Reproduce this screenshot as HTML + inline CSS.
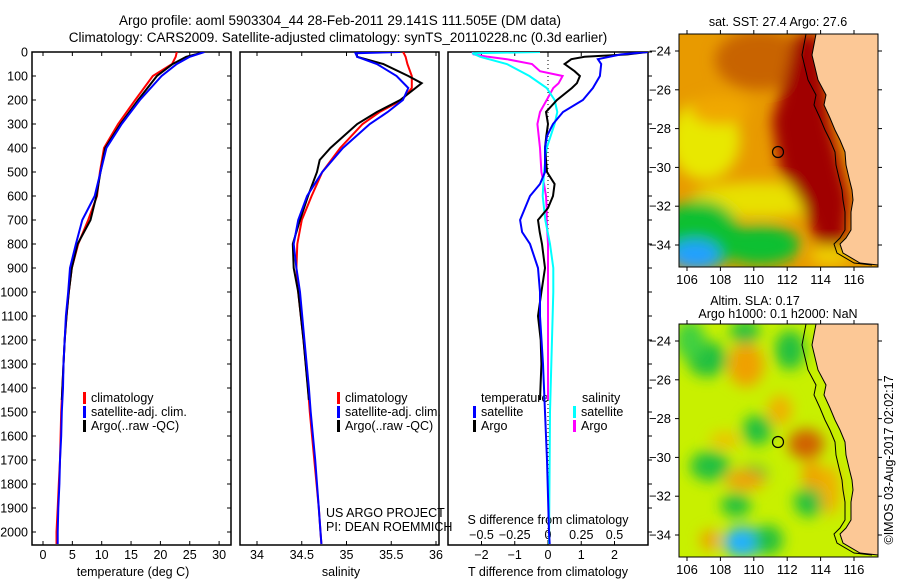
<!DOCTYPE html>
<html><head><meta charset="utf-8"><style>
body{margin:0;background:#fff;}
svg{display:block;font-family:"Liberation Sans",sans-serif;}
text{font-size:12.5px;fill:#000;}
</style></head><body>
<svg id="chart" width="900" height="580" viewBox="0 0 900 580">
<defs>
<filter id="bl" x="-20%" y="-20%" width="140%" height="140%"><feGaussianBlur stdDeviation="7"/></filter>
<clipPath id="c1"><rect x="679" y="34" width="199" height="233"/></clipPath>
<clipPath id="c2"><rect x="679" y="324" width="199" height="233"/></clipPath>
<clipPath id="p1"><rect x="32" y="52" width="199" height="493"/></clipPath>
<clipPath id="p2"><rect x="240" y="52" width="199" height="493"/></clipPath>
<clipPath id="p3"><rect x="448" y="52" width="200" height="493"/></clipPath>
</defs>
<text x="340" y="25" text-anchor="middle" style="font-size:13.5px">Argo profile: aoml 5903304_44 28-Feb-2011 29.141S 111.505E (DM data)</text>
<text x="338" y="42" text-anchor="middle" style="font-size:13.5px">Climatology: CARS2009. Satellite-adjusted climatology: synTS_20110228.nc (0.3d earlier)</text>
<g id="axes"></g>
<g id="series"></g>
<g id="maps"></g>
</svg>
<script>
// ---- data ----
const tDepth = [0,20,50,100,200,300,400,500,600,700,800,900,1000,1100,1200,1300,1400,1500,1600,1700,1800,1900,2000,2050];
const tClim  = [22.8,22.6,22.0,18.7,15.7,12.8,10.4,9.7,9.2,7.7,6.0,4.9,4.4,4.0,3.7,3.5,3.3,3.1,3.0,2.9,2.7,2.5,2.3,2.3];
const tSat   = [27.5,25.0,22.8,20.2,16.5,13.4,10.8,9.8,8.8,6.7,5.6,4.6,4.3,3.9,3.7,3.5,3.4,3.2,3.1,2.9,2.8,2.6,2.5,2.5];
const aDepth = [0,10,20,50,100,200,300,400,500,600,700,800,900,1000,1100,1200,1300,1450];
const tArgo  = [27.3,26.0,24.4,22.1,19.4,16.2,13.2,10.6,9.8,9.1,8.1,5.9,4.9,4.4,4.0,3.7,3.5,3.2];
const sDepth = [0,5,20,50,100,150,200,250,300,400,500,600,700,800,900,1000,1200,1400,1500,1700,1900,2000,2050];
const sClim  = [35.63,35.64,35.66,35.68,35.73,35.73,35.62,35.37,35.18,34.93,34.73,34.61,34.50,34.45,34.44,34.46,34.52,34.57,34.59,34.64,34.69,34.71,34.72];
const sSat   = [35.60,35.10,35.12,35.34,35.56,35.69,35.63,35.46,35.26,34.96,34.73,34.56,34.46,34.41,34.44,34.48,34.53,34.58,34.60,34.65,34.69,34.71,34.72];
const sArgoD = [0,20,50,100,130,200,250,300,400,450,500,600,700,800,900,1000,1200,1450];
const sArgo  = [35.11,35.12,35.41,35.69,35.84,35.60,35.34,35.12,34.82,34.70,34.67,34.57,34.48,34.40,34.41,34.46,34.52,34.58];
const dDepth = [0,10,20,30,50,80,100,130,150,200,250,300,350,400,500,550,600,650,700,750,800,900,1000,1100,1200,1300,1450];
const dTArgo = [3.0,2.4,1.1,0.7,0.5,0.8,0.96,0.87,0.72,0.27,-0.06,0,-0.05,-0.09,-0.03,0.2,0.15,0,-0.3,-0.25,-0.18,-0.09,-0.2,-0.3,-0.22,-0.2,-0.24];
const dTSatD = [0,10,30,50,100,150,200,250,300,350,400,500,550,600,700,750,800,900,1000,1100,1300,1500,1700,2000,2050];
const dTSat  = [3.0,2.2,1.5,1.6,1.56,1.35,1.05,0.45,0.15,-0.03,-0.09,-0.09,-0.24,-0.54,-0.84,-0.78,-0.54,-0.3,-0.24,-0.24,-0.15,-0.09,-0.03,0.03,0.05];
const dSArgo = [-0.57,-0.56,-0.45,-0.31,-0.12,-0.06,0.11,0.08,0.04,-0.01,-0.06,-0.08,-0.07,-0.06,-0.05,-0.03,-0.015,-0.01,-0.01,-0.005,0,0,0,0,0,0,0];
const dSSatD = [0,5,20,50,100,150,200,250,300,400,500,600,700,800,900,1000,1500,2000,2050];
const dSSat  = [-0.06,-0.57,-0.51,-0.31,-0.14,-0.01,0.05,0.07,0.05,-0.01,-0.03,-0.04,-0.02,0.015,0.04,0.04,0.015,0.008,0.008];
const depthTicks = [0,100,200,300,400,500,600,700,800,900,1000,1100,1200,1300,1400,1500,1600,1700,1800,1900,2000];
const tTicks = [0,5,10,15,20,25,30];
const sTicks = [34,34.5,35,35.5,36];
const dTTicks = [-2,-1,0,1,2];
const dSTicks = [-0.5,-0.25,0,0.25,0.5];
const lonTicks = [106,108,110,112,114,116];
const latTicks = [-24,-26,-28,-30,-32,-34];

// ---- scales ----
const yD = d => 52 + d*0.24;
const xT = t => 43 + t*5.87;
const xS = s => 257 + (s-34)*89.5;
const xDT = v => 548 + v*33.25;
const xDS = v => 548 + v*133;
const lonX = l => 687 + (l-106)*16.7;
const latY = (l,off) => off + 51 + (-24-l)*19.4;

const NS="http://www.w3.org/2000/svg";
function mk(tag, attrs, parent){const e=document.createElementNS(NS,tag);for(const k in attrs)e.setAttribute(k,attrs[k]);parent.appendChild(e);return e;}
const axes=document.getElementById('axes'), series=document.getElementById('series'), maps=document.getElementById('maps');
function txt(x,y,s,anchor,parent,size){const t=mk('text',{x:x,y:y,'text-anchor':anchor||'start'},parent);if(size)t.style.fontSize=size+'px';t.textContent=s;return t;}

// panels
const panels=[[32,'panel-temperature'],[240,'panel-salinity'],[448,'panel-difference']];
panels.forEach(([x,n],i)=>{const r=mk('rect',{x:x,y:52,width:i==2?200:199,height:493,fill:'none',stroke:'#000','stroke-width':1.5},axes);

});
depthTicks.forEach(d=>{
  const l=mk('line',{x1:32,x2:36,y1:yD(d),y2:yD(d),stroke:'#000'},axes);
  mk('line',{x1:227,x2:231,y1:yD(d),y2:yD(d),stroke:'#000'},axes);
  mk('line',{x1:648,x2:652,y1:yD(d),y2:yD(d),stroke:'#000'},axes);
  const t=txt(28,yD(d)+4.5,String(d),'end',axes);
  
  
});
tTicks.forEach(v=>{mk('line',{x1:xT(v),x2:xT(v),y1:52,y2:56,stroke:'#000'},axes);mk('line',{x1:xT(v),x2:xT(v),y1:541,y2:545,stroke:'#000'},axes);
  const t=txt(xT(v),559,String(v),'middle',axes);
  
  });
sTicks.forEach(v=>{mk('line',{x1:xS(v),x2:xS(v),y1:52,y2:56,stroke:'#000'},axes);mk('line',{x1:xS(v),x2:xS(v),y1:541,y2:545,stroke:'#000'},axes);
  const t=txt(xS(v),559,String(v),'middle',axes);
  
  });
dTTicks.forEach(v=>{mk('line',{x1:xDT(v),x2:xDT(v),y1:52,y2:56,stroke:'#000'},axes);mk('line',{x1:xDT(v),x2:xDT(v),y1:541,y2:545,stroke:'#000'},axes);
  const t=txt(xDT(v),559,String(v).replace('-','\u2212'),'middle',axes);
  
  });
dSTicks.forEach(v=>{const t=txt(xDS(v),539,String(v).replace('-','\u2212'),'middle',axes);
  
  });
[[133,'temperature (deg C)','x-axis-title-temperature'],[341,'salinity','x-axis-title-salinity'],[548,'T difference from climatology','x-axis-title-t-diff']].forEach(([x,s,n])=>{
  const t=txt(x,576,s,'middle',axes);
  
  });
{const t=txt(548,524,'S difference from climatology','middle',axes);

}
mk('line',{x1:548,x2:548,y1:52,y2:545,stroke:'#000','stroke-dasharray':'1,3'},axes);
{const a=txt(326,517,'US ARGO PROJECT','start',axes);
const b=txt(326,531,'PI: DEAN ROEMMICH','start',axes);}

function line(depths, vals, xf, color, clip, name){
  const p=depths.map((d,i)=>xf(vals[i]).toFixed(1)+','+yD(d).toFixed(1)).join(' ');
  const e=mk('polyline',{points:p,fill:'none',stroke:color,'stroke-width':2,'clip-path':'url(#'+clip+')'},series);
  
  
}
line(tDepth,tClim,xT,'#f00','p1','temp-climatology-line');
line(aDepth,tArgo,xT,'#000','p1','temp-argo-line');
line(tDepth,tSat,xT,'#00f','p1','temp-satellite-line');
line(sDepth,sClim,xS,'#f00','p2','salinity-climatology-line');
line(sArgoD,sArgo,xS,'#000','p2','salinity-argo-line');
line(sDepth,sSat,xS,'#00f','p2','salinity-satellite-line');
line(dDepth,dSArgo,xDS,'#f0f','p3','s-diff-argo-line');
line(dSSatD,dSSat,xDS,'#0ff','p3','s-diff-satellite-line');
line(dDepth,dTArgo,xDT,'#000','p3','t-diff-argo-line');
line(dTSatD,dTSat,xDT,'#00f','p3','t-diff-satellite-line');

function legend(x,y,color,label,name){
  const g=mk('g',{},axes);
  
  
  mk('rect',{x:x,y:y-10,width:3,height:12,fill:color},g);
  txt(x+8,y,label,'start',g);
}
legend(83,402,'#f00','climatology','legend-climatology');
legend(83,416,'#00f','satellite-adj. clim.','legend-satellite-adj');
legend(83,430,'#000','Argo(..raw -QC)','legend-argo');
legend(337,402,'#f00','climatology','legend-s-climatology');
legend(337,416,'#00f','satellite-adj. clim.','legend-s-satellite-adj');
legend(337,430,'#000','Argo(..raw -QC)','legend-s-argo');
{const t=txt(481,402,'temperature','start',axes);
const s=txt(582,402,'salinity','start',axes);}
legend(473,416,'#00f','satellite','legend-t-satellite');
legend(473,430,'#000','Argo','legend-t-argo');
legend(573,416,'#0ff','satellite','legend-s-satellite');
legend(573,430,'#f0f','Argo','legend-s-argo-diff');

// ---- maps ----
const coast=[[816,34],[812,55],[818,80],[826,95],[824,105],[830,118],[835,130],[840,140],[845,152],[846,165],[849,178],[852,190],[853,200],[851,212],[851,230],[846,238],[840,244],[843,253],[860,263],[878,265]];
function drawMap(off, clip, blobs, base, name){
  const g=mk('g',{},maps);
  
  
  const inner=mk('g',{'clip-path':'url(#'+clip+')'},g);
  mk('rect',{x:679,y:34+off,width:199,height:233,fill:base},inner);
  const bg=mk('g',{filter:'url(#bl)'},inner);
  blobs.forEach(b=>{ if(b[0]==='p') mk('polygon',{points:b[1].map(p=>p[0]+','+(p[1]+off)).join(' '),fill:b[2]},bg);
    else mk('ellipse',{cx:b[0],cy:b[1]+off,rx:b[2],ry:b[3],fill:b[4]},bg);});
  const pts=coast.map(p=>p[0]+','+(p[1]+off)).join(' ');
  mk('polygon',{points:pts+' 878,'+(34+off),fill:'#fcc896'},inner);
  mk('polyline',{points:pts,fill:'none',stroke:'#000','stroke-width':1},inner);
  mk('polyline',{points:coast.map(p=>(p[0]-10-(p[1]>200?-4:0))+','+(p[1]+off)).join(' '),fill:'none',stroke:'#000','stroke-width':1},inner);
  mk('rect',{x:679,y:34+off,width:199,height:233,fill:'none',stroke:'#000'},g);
  const c=mk('circle',{cx:778,cy:152+off,r:5.5,fill:'none',stroke:'#000','stroke-width':1.2},g);
  
  
  lonTicks.forEach(l=>{mk('line',{x1:lonX(l),x2:lonX(l),y1:34+off,y2:30+off,stroke:'#000'},g);mk('line',{x1:lonX(l),x2:lonX(l),y1:267+off,y2:271+off,stroke:'#000'},g);
    const t=txt(lonX(l),284+off,String(l),'middle',g,13);
    
    });
  latTicks.forEach(l=>{mk('line',{x1:679,x2:675,y1:latY(l,off),y2:latY(l,off),stroke:'#000'},g);mk('line',{x1:878,x2:882,y1:latY(l,off),y2:latY(l,off),stroke:'#000'},g);
    const t=txt(671,latY(l,off)+4.5,String(l).replace('-','\u2212'),'end',g,13);
    
    });
}
drawMap(0,'c1',[
 [760,60,45,30,'#c86400'],[705,140,35,40,'#e8e800'],[760,200,70,18,'#e8e000'],[720,110,30,15,'#f0a800'],
 ['p',[[795,34],[820,34],[830,120],[850,200],[845,250],[820,250],[800,200],[780,170],[772,120],[785,80]],'#a00000'],
 [700,235,40,35,'#10c030'],[760,245,40,20,'#10c030'],[695,255,25,15,'#20a0ff'],[830,255,20,10,'#f0d000']
],'#e89a00','sst-map');
drawMap(290,'c2',[
 [707,69,20,18,'#20c040'],[745,42,15,12,'#20c040'],[710,176,20,15,'#20c040'],[757,140,15,15,'#20c040'],[753,185,15,10,'#20c040'],
 [790,60,15,20,'#20c040'],[809,212,15,15,'#20c040'],[736,215,15,12,'#20c040'],[743,252,20,15,'#20b0ff'],[690,50,15,20,'#40d040'],[768,250,15,15,'#20c040'],
 [746,75,18,22,'#f0a000'],[780,120,12,15,'#f0b000'],[806,154,18,15,'#d06000'],[745,190,20,10,'#f0a000'],[812,185,10,15,'#f0a000'],[710,250,10,10,'#f0a000'],[725,150,15,8,'#f0c000'],[830,200,10,25,'#f0b000']
],'#c8f000','sla-map');
{const t=txt(778,26,'sat. SST: 27.4  Argo: 27.6','middle',maps);
const a=txt(755,305,'Altim. SLA: 0.17','middle',maps);
const b=txt(778,318,'Argo h1000: 0.1 h2000: NaN','middle',maps);
const c=txt(0,0,'\u00a9IMOS 03-Aug-2017 02:02:17','middle',maps);c.setAttribute('transform','translate(893,460) rotate(-90)');}
</script>
</body></html>
